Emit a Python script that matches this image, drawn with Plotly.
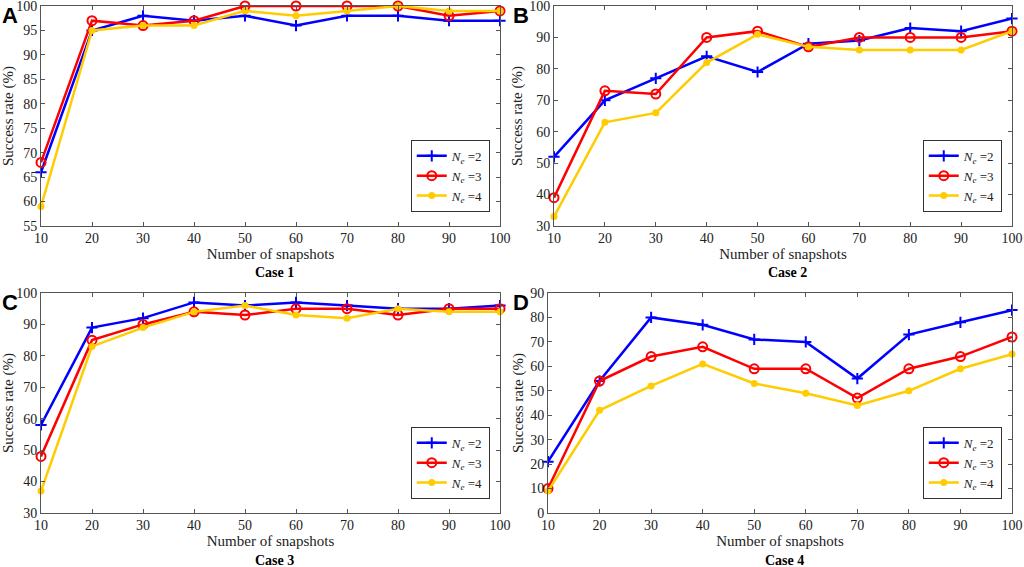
import plotly.graph_objects as go

snapshots = [10, 20, 30, 40, 50, 60, 70, 80, 90, 100]

case1_ne2 = [66, 95, 98, 97, 98, 96, 98, 98, 97, 97]
case1_ne3 = [68, 97, 96, 97, 100, 100, 100, 100, 98, 99]
case1_ne4 = [59, 95, 96, 96, 99, 98, 99, 100, 99, 99]

case2_ne2 = [52, 70, 77, 84, 79, 88, 89, 93, 92, 96]
case2_ne3 = [39, 73, 72, 90, 92, 87, 90, 90, 90, 92]
case2_ne4 = [33, 63, 66, 82, 91, 87, 86, 86, 86, 92]

case3_ne2 = [58, 89, 92, 97, 96, 97, 96, 95, 95, 96]
case3_ne3 = [48, 85, 90, 94, 93, 95, 95, 93, 95, 95]
case3_ne4 = [37, 83, 89, 94, 96, 93, 92, 95, 94, 94]

case4_ne2 = [21, 54, 80, 77, 71, 70, 55, 73, 78, 83]
case4_ne3 = [10, 54, 64, 68, 59, 59, 47, 59, 64, 72]
case4_ne4 = [9, 42, 52, 61, 53, 49, 44, 50, 59, 65]

names = ["<i>N</i><sub><i>e</i></sub> =2", "<i>N</i><sub><i>e</i></sub> =3",
         "<i>N</i><sub><i>e</i></sub> =4"]
panel_letters = ["A", "B", "C", "D"]
captions = ["Case 1", "Case 2", "Case 3", "Case 4"]
y_ranges = [[55, 100], [30, 100], [30, 100], [0, 90]]
y_dticks = [5, 10, 10, 10]

W, H = 1024, 567
# plot area pixel boxes (left, right, top, bottom)
boxes = [(41, 500, 6, 226), (554, 1012, 6, 226),
         (41, 500, 293, 513), (548, 1012, 293, 513)]

cases = [(case1_ne2, case1_ne3, case1_ne4), (case2_ne2, case2_ne3, case2_ne4),
         (case3_ne2, case3_ne3, case3_ne4), (case4_ne2, case4_ne3, case4_ne4)]

styles = [
    dict(color="#0000ff", marker=dict(symbol="cross-thin", size=8,
                                      line=dict(width=2, color="#0000ff"))),
    dict(color="#ff0000", marker=dict(symbol="circle-open", size=9,
                                      line=dict(width=2, color="#ff0000"))),
    dict(color="#ffcc00", marker=dict(symbol="circle", size=7)),
]

serif = "Liberation Serif, Times New Roman, serif"
fig = go.Figure()
layout = {}
for i, (series, box) in enumerate(zip(cases, boxes)):
    n = "" if i == 0 else str(i + 1)
    left, right, top, bottom = box
    xd = [left / W, right / W]
    yd = [1 - bottom / H, 1 - top / H]
    leg = "legend" + n
    for vals, name, st in zip(series, names, styles):
        fig.add_trace(go.Scatter(
            x=snapshots, y=vals, name=name, mode="lines+markers", cliponaxis=False,
            line=dict(color=st["color"], width=2.5),
            marker=dict(color=st["color"], **st["marker"]),
            xaxis="x" + n, yaxis="y" + n, legend=leg))
    axis_common = dict(showline=True, linecolor="#555", linewidth=1, mirror="ticks",
                       ticks="inside", ticklen=4, tickcolor="#555", showgrid=False,
                       zeroline=False, automargin=False, ticklabeloverflow="allow",
                       tickfont=dict(family=serif, size=14, color="#222"))
    layout["xaxis" + n] = dict(domain=xd, anchor="y" + n, range=[10, 100],
                               tickvals=snapshots, ticklabelstandoff=-1,
                               title=dict(text="Number of snapshots", standoff=2,
                                          font=dict(family=serif, size=15, color="#222")),
                               **axis_common)
    layout["yaxis" + n] = dict(domain=yd, anchor="x" + n, range=y_ranges[i],
                               dtick=y_dticks[i], ticklabelstandoff=0,
                               title=dict(text="Success rate (%)", standoff=2,
                                          font=dict(family=serif, size=15, color="#222")),
                               **axis_common)
    layout[leg] = dict(x=xd[1] - 0.01, y=yd[0] + 0.025, xanchor="right", yanchor="bottom",
                       bgcolor="white", bordercolor="#333", borderwidth=1,
                       font=dict(family=serif, size=13, color="#222"),
                       tracegroupgap=0, itemwidth=30)
    fig.add_annotation(text="<b>" + panel_letters[i] + "</b>", xref="paper", yref="paper",
                       x=(0 if i % 2 == 0 else 511) / W, y=1 - (top - 5) / H,
                       xanchor="left", yanchor="top", showarrow=False,
                       font=dict(family="Liberation Sans, Arial, sans-serif", size=22,
                                 color="black"))
    fig.add_annotation(text="<b>" + captions[i] + "</b>", xref="paper", yref="paper",
                       x=(xd[0] + xd[1]) / 2 + 0.004, y=1 - (bottom + 47) / H,
                       xanchor="center", yanchor="middle", showarrow=False,
                       font=dict(family=serif, size=14, color="black"))

fig.update_layout(width=W, height=H, margin=dict(l=0, r=0, t=0, b=0),
                  plot_bgcolor="white", paper_bgcolor="white", **layout)
# drop the browser's default page margin so the figure fills the window
fig.write_html("out.html", config={"displayModeBar": False},
               post_script="document.body.style.margin = '0';")
